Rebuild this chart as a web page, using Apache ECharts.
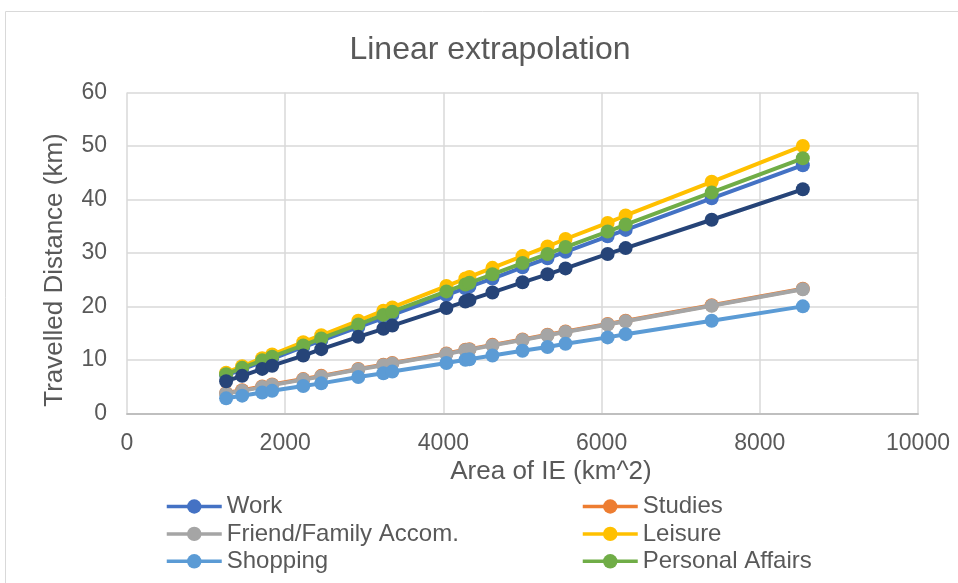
<!DOCTYPE html>
<html>
<head>
<meta charset="utf-8">
<script src="https://cdn.jsdelivr.net/npm/echarts@6/dist/echarts.min.js"></script>
<style>
html,body{margin:0;padding:0;background:#fff;}
#chart{width:958px;height:583px;}
</style>
</head>
<body>
<div id="chart"></div>
<script>
const areas = [1253,1456,1709,1835,2228,2456,2924,3241,3354,4038,4278,4329,4620,5000,5316,5544,6076,6304,7392,8544];
const work = [7.1,8.2,9.6,10.2,12.4,13.6,16.1,17.8,18.4,22.1,23.4,23.7,25.2,27.3,29.0,30.2,33.1,34.3,40.2,46.4];
const studies = [3.8,4.3,5.0,5.4,6.4,7.0,8.3,9.1,9.4,11.2,11.9,12.0,12.8,13.8,14.7,15.3,16.7,17.3,20.2,23.3];
const friend = [3.7,4.2,4.9,5.3,6.3,6.9,8.2,9.0,9.3,11.1,11.8,11.9,12.7,13.7,14.6,15.2,16.6,17.2,20.1,23.2];
const leisure = [7.6,8.8,10.3,11.0,13.3,14.6,17.3,19.2,19.8,23.8,25.2,25.5,27.2,29.4,31.2,32.6,35.6,37.0,43.3,50.0];
const shopping = [2.8,3.3,3.9,4.2,5.1,5.6,6.8,7.5,7.8,9.4,10.0,10.1,10.8,11.7,12.4,13.0,14.2,14.8,17.3,20.0];
const personal = [7.3,8.5,9.9,10.6,12.7,14.0,16.6,18.4,19.0,22.8,24.1,24.4,26.0,28.1,29.8,31.1,34.0,35.3,41.3,47.7];
const other = [6.0,7.0,8.3,8.9,10.8,12.0,14.3,15.8,16.4,19.7,20.9,21.2,22.6,24.5,26.0,27.1,29.8,30.9,36.2,41.9];

const seriesNames = ['Work','Studies','Friend/Family Accom.','Leisure','Shopping','Personal Affairs','Other'];
const seriesValues = [work, studies, friend, leisure, shopping, personal, other];
const seriesColors = ['#4472C4','#ED7D31','#A5A5A5','#FFC000','#5B9BD5','#70AD47','#264478'];
const xTicks = {min:0, max:10000, interval:2000};
const yTicks = {min:0, max:60, interval:10};

const FONT = '"Liberation Sans", Arial, sans-serif';
const TXT = '#595959';

const chart = echarts.init(document.getElementById('chart'), null, {renderer:'canvas'});

const series = seriesNames.map((n,i)=>({
  name:n, type:'line',
  data: areas.map((a,j)=>[a, seriesValues[i][j]]),
  symbol:'circle', symbolSize:14,
  lineStyle:{width:4, color:seriesColors[i]},
  itemStyle:{color:seriesColors[i]},
  z: 2 + i,
  emphasis:{disabled:true},
  animation:false
}));

const legendCommon = {
  orient:'vertical', itemWidth:55, itemHeight:18, itemGap:0.4,
  padding:0, height:90,
  lineStyle:{width:3.5},
  textStyle:{color:TXT, fontSize:24, fontFamily:FONT, lineHeight:27},
  selectedMode:false
};

chart.setOption({
  animation:false,
  color: seriesColors,
  graphic:[
    {type:'rect', shape:{x:5.5, y:11.5, width:1000, height:1000}, style:{fill:'none', stroke:'#D9D9D9', lineWidth:1}, silent:true, z:-10},
    {type:'text', x:490, y:50, style:{text:'Linear extrapolation', fill:TXT, font:'32px ' + FONT, textAlign:'center', textVerticalAlign:'middle'}},
    {type:'text', x:551, y:472, style:{text:'Area of IE (km^2)', fill:TXT, font:'26px ' + FONT, textAlign:'center', textVerticalAlign:'middle'}},
    {type:'text', x:55, y:270, rotation:Math.PI/2, style:{text:'Travelled Distance (km)', fill:TXT, font:'26px ' + FONT, textAlign:'center', textVerticalAlign:'middle'}}
  ],
  grid:{left:127, right:40, top:92.5, bottom:169.7, containLabel:false},
  xAxis:{
    type:'value', min:xTicks.min, max:xTicks.max, interval:xTicks.interval,
    axisLine:{show:true, lineStyle:{color:'#BFBFBF', width:2}},
    axisTick:{show:false},
    axisLabel:{color:TXT, fontSize:23, fontFamily:FONT, margin:19, formatter:(v)=>String(v)},
    splitLine:{show:true, lineStyle:{color:'#D9D9D9', width:1.5}}
  },
  yAxis:{
    type:'value', min:yTicks.min, max:yTicks.max, interval:yTicks.interval,
    axisLine:{show:false},
    axisTick:{show:false},
    axisLabel:{color:TXT, fontSize:23, fontFamily:FONT, margin:20},
    splitLine:{show:true, lineStyle:{color:'#D9D9D9', width:1.5}}
  },
  legend:[
    Object.assign({}, legendCommon, {left:165, top:493, data:['Work','Friend/Family Accom.','Shopping']}),
    Object.assign({}, legendCommon, {left:581, top:493, data:['Studies','Leisure','Personal Affairs']})
  ],
  series: series
});
</script>
</body>
</html>
